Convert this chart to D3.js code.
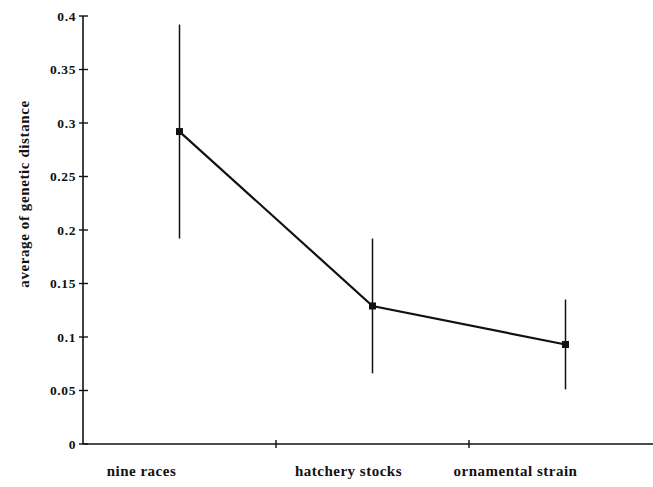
<!DOCTYPE html>
<html>
<head>
<meta charset="UTF-8">
<script src="https://d3js.org/d3.v7.min.js"></script>
<style>
  body { margin: 0; background: #fff; }
  text { font-family: "Liberation Serif", "DejaVu Serif", serif; fill: #111; }
</style>
</head>
<body>
<div id="chart"></div>
<script>
// data
const categories = ['nine races', 'hatchery stocks', 'ornamental strain'];
const means = [0.292, 0.129, 0.093];
const errors = [0.100, 0.063, 0.042];
const yTicks = [0, 0.05, 0.1, 0.15, 0.2, 0.25, 0.3, 0.35, 0.4];
const yTickLabels = ['0', '0.05', '0.1', '0.15', '0.2', '0.25', '0.3', '0.35', '0.4'];

const W = 653, H = 487;
const svg = d3.select('#chart').append('svg').attr('width', W).attr('height', H);

const x = d3.scaleBand().domain(categories).range([83, 662]);
const y = d3.scaleLinear().domain([0, 0.4]).range([444, 16]);

const ink = '#111';

// y axis
svg.append('line').attr('x1', 83).attr('x2', 83).attr('y1', y(0.4)).attr('y2', y(0))
   .attr('stroke', ink).attr('stroke-width', 1.6);
svg.selectAll('.ytick').data(yTicks).enter().append('line')
   .attr('x1', 79).attr('x2', 88)
   .attr('y1', d => y(d)).attr('y2', d => y(d))
   .attr('stroke', ink).attr('stroke-width', 1.4);
svg.selectAll('.ylab').data(yTicks).enter().append('text')
   .attr('x', 76).attr('y', d => y(d) + 4.5)
   .attr('text-anchor', 'end').attr('font-size', 13.5).attr('font-weight', 'bold')
   .attr('letter-spacing', 0.6)
   .text((d, i) => yTickLabels[i]);

// x axis
svg.append('line').attr('x1', 83).attr('x2', W).attr('y1', y(0)).attr('y2', y(0))
   .attr('stroke', ink).attr('stroke-width', 1.6);
svg.selectAll('.xtick').data(categories.slice(1)).enter().append('line')
   .attr('x1', d => x(d)).attr('x2', d => x(d))
   .attr('y1', y(0) - 4).attr('y2', y(0) + 4)
   .attr('stroke', ink).attr('stroke-width', 1.4);

// category labels (the original sits them a bit left of the band centre)
const labelDx = [-38, -24, -50];
svg.selectAll('.xlab').data(categories).enter().append('text')
   .attr('x', (d, i) => x(d) + x.bandwidth() / 2 + labelDx[i])
   .attr('y', 476)
   .attr('text-anchor', 'middle').attr('font-size', 15).attr('font-weight', 'bold')
   .attr('letter-spacing', 0.5)
   .text(d => d);

// axis title
svg.append('text')
   .attr('transform', 'translate(29,194) rotate(-90)')
   .attr('text-anchor', 'middle').attr('font-size', 15).attr('font-weight', 'bold')
   .attr('letter-spacing', 0.6)
   .text('average of genetic distance');

// error bars
svg.selectAll('.err').data(categories).enter().append('line')
   .attr('x1', d => x(d) + x.bandwidth() / 2).attr('x2', d => x(d) + x.bandwidth() / 2)
   .attr('y1', (d, i) => y(means[i] + errors[i]))
   .attr('y2', (d, i) => y(means[i] - errors[i]))
   .attr('stroke', ink).attr('stroke-width', 1.5);

// mean line
const line = d3.line()
   .x(d => x(d) + x.bandwidth() / 2)
   .y((d, i) => y(means[i]));
svg.append('path').datum(categories).attr('d', line)
   .attr('fill', 'none').attr('stroke', ink).attr('stroke-width', 2.2);

// markers
svg.selectAll('.mk').data(categories).enter().append('rect')
   .attr('x', d => x(d) + x.bandwidth() / 2 - 3.5)
   .attr('y', (d, i) => y(means[i]) - 3.5)
   .attr('width', 7).attr('height', 7).attr('fill', ink);
</script>
</body>
</html>
